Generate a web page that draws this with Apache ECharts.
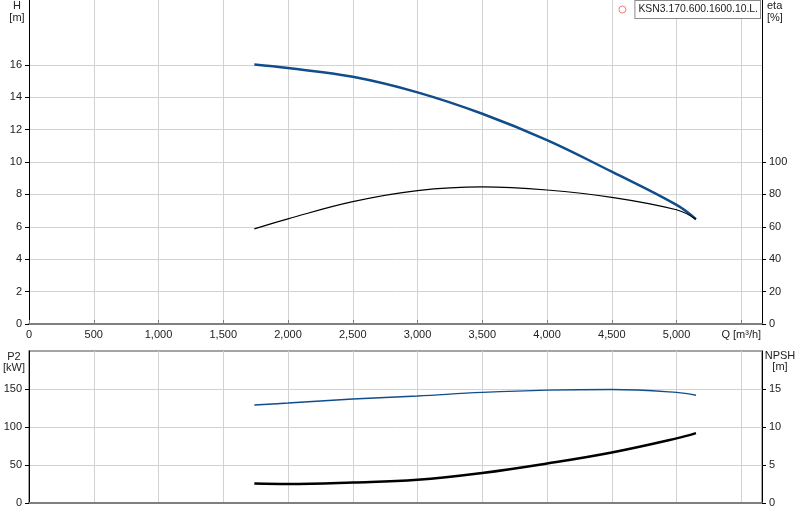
<!DOCTYPE html>
<html>
<head>
<meta charset="utf-8">
<script src="https://cdn.jsdelivr.net/npm/echarts@6/dist/echarts.min.js"></script>
<style>
  html, body { margin: 0; padding: 0; background: #fff; }
  #pump_chart { width: 800px; height: 520px; }
</style>
</head>
<body>
<div id="pump_chart"></div>
<script>
// pump curve data
var modelName = 'KSN3.170.600.1600.10.L.';
var flow = [1740, 2000, 2500, 3000, 3500, 4000, 4500, 5000, 5150];   // Q [m3/h]
var head = [16.02, 15.8, 15.26, 14.3, 12.98, 11.35, 9.4, 7.35, 6.47]; // H [m]
var eta  = [58.7, 64.9, 75.5, 82.3, 84.6, 82.7, 78.2, 70.5, 64.7];    // eta [%]
var p2   = [128.9, 131.5, 136.8, 140.8, 145.5, 148.5, 149.3, 145.5, 141.7]; // P2 [kW]
var npsh = [2.56, 2.5, 2.7, 3.05, 3.95, 5.2, 6.65, 8.5, 9.2];         // NPSH [m]

var qTicks    = [0, 500, 1000, 1500, 2000, 2500, 3000, 3500, 4000, 4500, 5000, 5500];
var hTicks    = [0, 2, 4, 6, 8, 10, 12, 14, 16];
var etaTicks  = [0, 20, 40, 60, 80, 100];
var p2Ticks   = [0, 50, 100, 150];
var npshTicks = [0, 5, 10, 15];

function pairs(xs, ys) {
    var out = [];
    for (var i = 0; i < xs.length; i++) out.push([xs[i], ys[i]]);
    return out;
}

function draw_pump_chart() {
    var chart = echarts.init(document.getElementById('pump_chart'));
    var font = 'Arial, "Liberation Sans", sans-serif';
    var labelStyle = { fontSize: 11, color: '#222', fontFamily: font };
    var gridLine = { show: true, lineStyle: { color: '#d2d2d2', width: 1 } };

    function yAxis(grid, pos, max, interval, ticks) {
        return {
            type: 'value', gridIndex: grid, position: pos,
            min: 0, max: max, interval: interval,
            axisLine: { show: true, lineStyle: { color: '#000', width: 1 } },
            axisTick: { show: true, length: 4, customValues: ticks, lineStyle: { color: '#000' } },
            axisLabel: Object.assign({ margin: 7, customValues: ticks }, labelStyle),
            splitLine: pos === 'left' ? gridLine : { show: false }
        };
    }

    function curve(name, xi, yi, values, color, width) {
        return {
            name: name, type: 'line', xAxisIndex: xi, yAxisIndex: yi,
            data: pairs(flow, values), smooth: 0.4, symbol: 'none',
            lineStyle: { color: color, width: width }
        };
    }

    var option = {
        animation: false,
        grid: [
            { left: 29, right: 38, top: 0, height: 324 },
            { left: 29, right: 38, top: 351, height: 152, show: true, borderColor: '#888', borderWidth: 1.5 }
        ],
        legend: {
            data: [{
                name: modelName, icon: 'circle',
                itemStyle: { color: '#fff', borderColor: '#ee5a55', borderWidth: 1 }
            }],
            right: 39, top: 0, padding: 0,
            itemWidth: 16, itemHeight: 7,
            selectedMode: false,
            textStyle: {
                fontSize: 10.4, color: '#222', fontFamily: font,
                backgroundColor: '#fff', borderColor: '#8a8a8a', borderWidth: 1,
                padding: [4, 2, 3, 3]
            }
        },
        xAxis: [
            {
                type: 'value', gridIndex: 0, min: 0, max: 5660, interval: 500,
                axisLine: { show: true, onZero: false, lineStyle: { color: '#7f7f7f', width: 2 } },
                axisTick: { show: true, inside: true, length: 4, customValues: qTicks, lineStyle: { color: '#7f7f7f' } },
                axisLabel: Object.assign({
                    margin: 5, customValues: qTicks,
                    formatter: function (v) {
                        if (v === 5500) return 'Q [m\u00b3/h]';
                        return echarts.format.addCommas(v);
                    }
                }, labelStyle),
                splitLine: gridLine
            },
            {
                type: 'value', gridIndex: 1, min: 0, max: 5660, interval: 500,
                axisLine: { show: true, onZero: false, lineStyle: { color: '#7f7f7f', width: 2 } },
                axisTick: { show: false },
                axisLabel: { show: false },
                splitLine: gridLine
            }
        ],
        yAxis: [
            yAxis(0, 'left', 20, 2, hTicks),
            yAxis(0, 'right', 200, 20, etaTicks),
            yAxis(1, 'left', 200, 50, p2Ticks),
            yAxis(1, 'right', 20, 5, npshTicks)
        ],
        graphic: [
            { type: 'text', style: { text: 'H\n[m]', x: 17, y: 0, align: 'center', verticalAlign: 'top', font: '11px ' + font, fill: '#222', lineHeight: 12 } },
            { type: 'text', style: { text: 'eta\n[%]', x: 767, y: 0, align: 'left', verticalAlign: 'top', font: '11px ' + font, fill: '#222', lineHeight: 12 } },
            { type: 'text', style: { text: 'P2\n[kW]', x: 14, y: 351, align: 'center', verticalAlign: 'top', font: '11px ' + font, fill: '#222', lineHeight: 11.5 } },
            { type: 'text', style: { text: 'NPSH\n[m]', x: 780, y: 350, align: 'center', verticalAlign: 'top', font: '11px ' + font, fill: '#222', lineHeight: 11.5 } }
        ],
        series: [
            {
                name: modelName, type: 'scatter', data: [],
                itemStyle: { color: '#ee5a55' }
            },
            curve('H', 0, 0, head, '#114d8b', 2.5),
            curve('eta', 0, 1, eta, '#000', 1.2),
            curve('P2', 1, 2, p2, '#114d8b', 1.4),
            curve('NPSH', 1, 3, npsh, '#000', 2.5)
        ]
    };
    chart.setOption(option);
}
draw_pump_chart();
</script>
</body>
</html>
